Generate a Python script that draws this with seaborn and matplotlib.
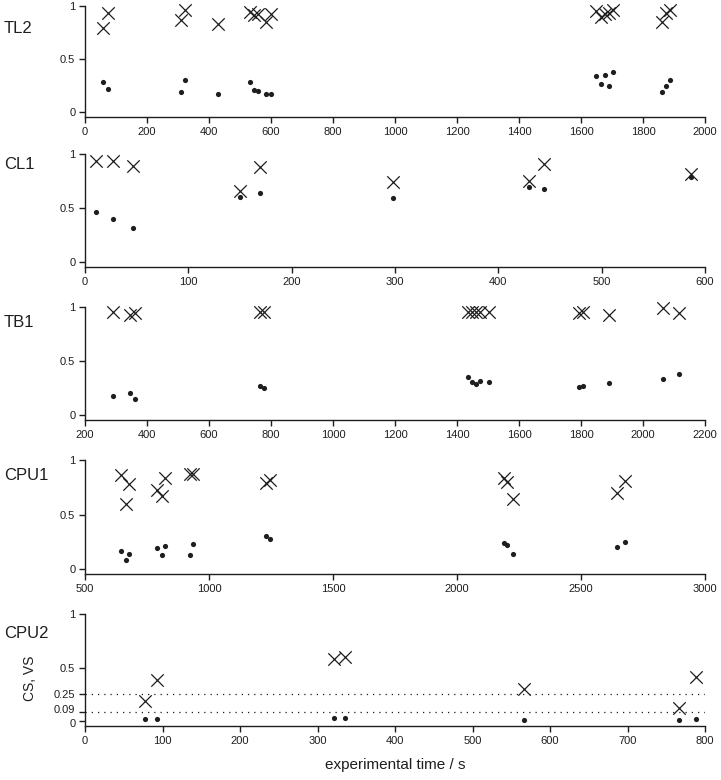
import matplotlib
matplotlib.use("Agg")
import matplotlib.pyplot as plt
import matplotlib.transforms as mtransforms
import seaborn as sns
import numpy as np
import pandas as pd

# panel names
panels = ["TL2", "CL1", "TB1", "CPU1", "CPU2"]

# experimental time (s) for each measurement, per panel
tl2_time = [58, 73, 311, 324, 428, 531, 546, 558, 585, 600,
            1649, 1665, 1679, 1691, 1704, 1860, 1874, 1886]
tl2_cs = [0.79, 0.935, 0.87, 0.962, 0.827, 0.94, 0.915, 0.925, 0.85, 0.92,
          0.956, 0.893, 0.925, 0.93, 0.962, 0.846, 0.935, 0.962]
tl2_vs = [0.289, 0.223, 0.195, 0.308, 0.173, 0.28, 0.205, 0.198, 0.173, 0.176,
          0.343, 0.27, 0.355, 0.245, 0.38, 0.195, 0.245, 0.299]

cl1_time = [10.6, 27.5, 46.6, 150.3, 169.8, 298, 429.7, 443.9, 586.3]
cl1_cs = [0.932, 0.932, 0.892, 0.655, 0.877, 0.742, 0.751, 0.908, 0.818]
cl1_vs = [0.462, 0.4, 0.32, 0.606, 0.643, 0.597, 0.692, 0.674, 0.785]

tb1_time = [290, 346, 360, 765, 778, 1437, 1449, 1462, 1475, 1503,
            1795, 1806, 1890, 2063, 2116]
tb1_cs = [0.95, 0.928, 0.94, 0.953, 0.953, 0.953, 0.953, 0.953, 0.953, 0.953,
          0.944, 0.953, 0.928, 0.99, 0.944]
tb1_vs = [0.178, 0.206, 0.147, 0.272, 0.247, 0.35, 0.31, 0.288, 0.319, 0.309,
          0.256, 0.269, 0.294, 0.338, 0.384]

cpu1_time = [647, 665, 678, 792, 811, 824, 922, 937, 1228, 1246,
             2188, 2202, 2224, 2646, 2679]
cpu1_cs = [0.864, 0.6, 0.78, 0.724, 0.672, 0.833, 0.873, 0.873, 0.786, 0.817,
           0.833, 0.802, 0.638, 0.693, 0.811]
cpu1_vs = [0.167, 0.084, 0.136, 0.189, 0.133, 0.214, 0.133, 0.226, 0.307, 0.279,
           0.235, 0.223, 0.136, 0.198, 0.251]

cpu2_time = [78, 93, 321, 335, 566, 767, 788]
cpu2_cs = [0.19, 0.384, 0.578, 0.603, 0.3, 0.119, 0.41]
cpu2_vs = [0.016, 0.016, 0.031, 0.028, 0.0125, 0.01, 0.019]

# x ticks per panel
tl2_xticks = list(range(0, 2001, 200))
cl1_xticks = list(range(0, 601, 100))
tb1_xticks = list(range(200, 2201, 200))
cpu1_xticks = list(range(500, 3001, 500))
cpu2_xticks = list(range(0, 801, 100))

yticks = [0, 0.5, 1]
ytick_labels = ["0", "0.5", "1"]
cpu2_yticks = [0, 0.09, 0.25, 0.5, 1]
cpu2_ytick_labels = ["0", "0.09", "0.25", "0.5", "1"]
thresholds = [0.09, 0.25]

sns.set_style("ticks")
plt.rcParams["font.family"] = ["Liberation Sans", "DejaVu Sans"]
ink = "#1e1e1e"

data = [
    (tl2_time, tl2_cs, tl2_vs, tl2_xticks),
    (cl1_time, cl1_cs, cl1_vs, cl1_xticks),
    (tb1_time, tb1_cs, tb1_vs, tb1_xticks),
    (cpu1_time, cpu1_cs, cpu1_vs, cpu1_xticks),
    (cpu2_time, cpu2_cs, cpu2_vs, cpu2_xticks),
]

# layout in pixels (top, bottom) of each axes
W, H = 721, 780
rows = [(6, 117), (154, 267), (307, 420), (460, 574), (614, 726)]
label_y = [0.79, 0.9, 0.86, 0.86, 0.82]
left, right = 85, 705

fig = plt.figure(figsize=(W / 100, H / 100), dpi=100)

for i, (name, (t, cs, vs, xt)) in enumerate(zip(panels, data)):
    top, bot = rows[i]
    ax = fig.add_axes([left / W, 1 - bot / H, (right - left) / W, (bot - top) / H])
    df = pd.DataFrame({"time": t, "cs": cs, "vs": vs})

    sns.scatterplot(data=df, x="time", y="cs", marker="x", s=80, color=ink,
                    linewidth=0.9, ax=ax, clip_on=False, zorder=3)
    sns.scatterplot(data=df, x="time", y="vs", marker="o", s=14, color=ink,
                    edgecolor=ink, linewidth=0, ax=ax, clip_on=False, zorder=3)

    ax.set_xlim(xt[0], xt[-1])
    ax.set_ylim(-0.045, 1)
    ax.set_xticks(xt)
    ax.set_xticklabels([str(v) for v in xt])
    if name == "CPU2":
        ax.set_yticks(cpu2_yticks)
        ax.set_yticklabels(cpu2_ytick_labels)
        for th in thresholds:
            ax.axhline(th, color=ink, linewidth=0.9, linestyle=(0, (1, 4)), zorder=1)
        ax.set_ylabel("CS, VS", fontsize=10, color=ink)
        ax.yaxis.set_label_coords(-0.077, 0.43)
        ax.set_xlabel("experimental time / s", fontsize=11, color=ink, labelpad=9)
    else:
        ax.set_yticks(yticks)
        ax.set_yticklabels(ytick_labels)
        ax.set_xlabel("")
        ax.set_ylabel("")

    sns.despine(ax=ax)
    for sp in ["left", "bottom"]:
        ax.spines[sp].set_color(ink)
        ax.spines[sp].set_linewidth(1.0)
    ax.tick_params(direction="out", length=4, width=1.0, colors=ink,
                   labelsize=8, pad=3)

    if name == "CPU2":
        # the 0 and 0.09 labels sit close together; nudge them apart a little
        lbls = ax.get_yticklabels()
        lbls[0].set_transform(lbls[0].get_transform() +
                              mtransforms.ScaledTranslation(0, -1.5 / 72, fig.dpi_scale_trans))
        lbls[1].set_transform(lbls[1].get_transform() +
                              mtransforms.ScaledTranslation(0, 1.5 / 72, fig.dpi_scale_trans))

    trans = mtransforms.blended_transform_factory(fig.transFigure, ax.transData)
    ax.text(4 / W, label_y[i], name, transform=trans, fontsize=12,
            color=ink, ha="left", va="center")

fig.savefig("out.png", dpi=100)
